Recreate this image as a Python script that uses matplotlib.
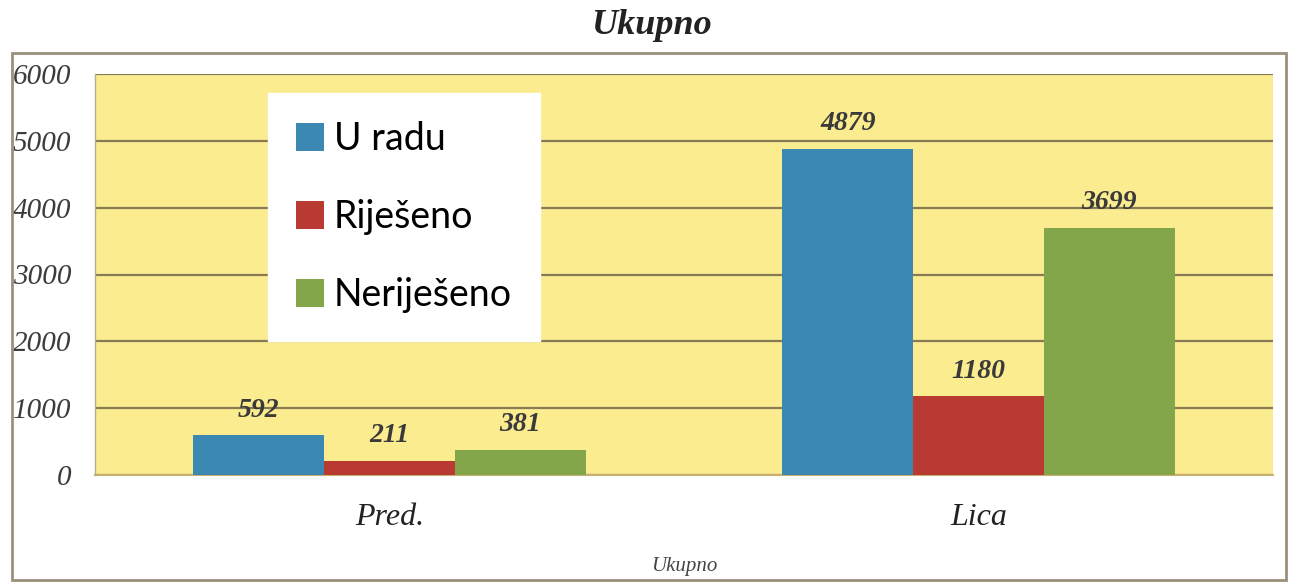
import matplotlib
matplotlib.use("Agg")
import matplotlib.pyplot as plt
import numpy as np
from matplotlib.patches import Rectangle

categories = ["Pred.", "Lica"]
series_names = ["U radu", "Riješeno", "Neriješeno"]
u_radu = [592, 4879]
rijeseno = [211, 1180]
nerijeseno = [381, 3699]
yticks = [0, 1000, 2000, 3000, 4000, 5000, 6000]

colors = ["#3b88b3", "#b83a33", "#84a64a"]
serif = ["Liberation Serif", "DejaVu Serif"]

fig = plt.figure(figsize=(12.9, 5.82), dpi=100)
fig.patch.set_facecolor("white")
ax = fig.add_axes([95/1290, 1-475/582, 1178/1290, 401/582])
ax.set_facecolor("#fbec90")

x = np.arange(len(categories))
w = 0.222
series = [u_radu, rijeseno, nerijeseno]
for i, (vals, c, name) in enumerate(zip(series, colors, series_names)):
    bars = ax.bar(x + (i - 1) * w, vals, width=w, color=c, label=name, zorder=3)
    ax.bar_label(bars, labels=[str(v) for v in vals], padding=9,
                 fontsize=20, fontstyle="italic", fontweight="bold", family=serif,
                 color="#3a3a3a", zorder=4)

ax.set_xlim(-0.5, 1.5)
ax.set_ylim(0, 6000)
ax.set_yticks(yticks)
ax.set_yticklabels([str(t) for t in yticks], fontsize=21, fontstyle="italic",
                   family=serif, color="#3c3c3c")
ax.set_xticks(x)
ax.set_xticklabels(categories, fontsize=23, fontstyle="italic", family=serif,
                   color="#222222")
ax.tick_params(axis="y", length=0, pad=17)
ax.tick_params(axis="x", length=0, pad=20)
ax.grid(axis="y", color="#877a55", linewidth=1.6, zorder=1)
for s in ["top", "right"]:
    ax.spines[s].set_visible(False)
ax.spines["left"].set_color("#b8ad90")
ax.spines["left"].set_linewidth(1)
ax.spines["bottom"].set_color("#c8b070")
ax.spines["bottom"].set_linewidth(1.5)

ax.set_xlabel("Ukupno", fontsize=15, fontstyle="italic", family=serif,
              color="#444444", labelpad=18)

leg = ax.legend(loc="upper left", bbox_to_anchor=(0.147, 0.953),
                frameon=True, fancybox=False, framealpha=1,
                edgecolor="white", facecolor="white",
                prop={"family": ["Lato", "DejaVu Sans"], "size": 27},
                handlelength=0.75, handleheight=0.75, handletextpad=0.25,
                labelspacing=1.12, borderpad=0.75, borderaxespad=0)
leg.set_zorder(5)

fig.text(0.505, 1-25/582, "Ukupno", ha="center", va="center", fontsize=26,
         fontstyle="italic", fontweight="bold", family=serif, color="#222222")

fig.patches.append(Rectangle((12/1290, 1-580/582), 1274/1290, 527/582,
                             transform=fig.transFigure, fill=False,
                             edgecolor="#9a917c", linewidth=2))

fig.savefig("out.png", dpi=100, facecolor="white")
